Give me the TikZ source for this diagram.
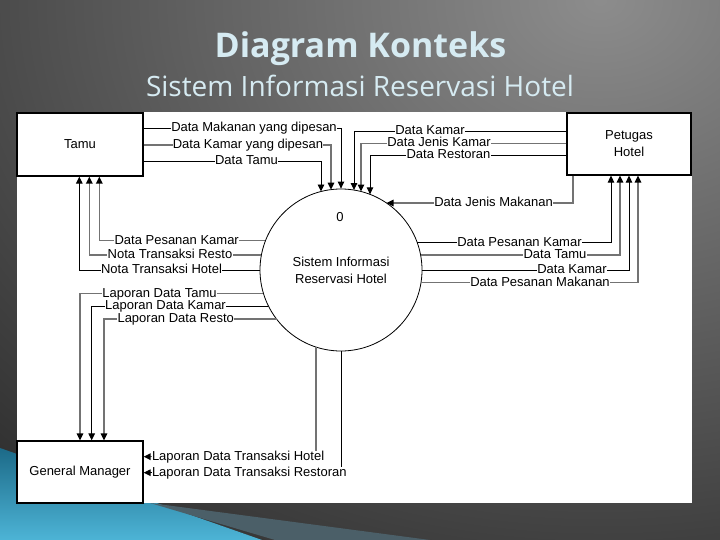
\documentclass[tikz,border=0pt]{standalone}
\usepackage{fontspec}
\setmainfont{Liberation Sans}
\newfontfamily\ttlfont{Open Sans}
\usetikzlibrary{arrows.meta,calc}
\definecolor{ttlcol}{HTML}{D6EBF2}
\definecolor{tealD}{HTML}{1C6A88}
\definecolor{tealL}{HTML}{4DB4D6}
\definecolor{wedgecol}{HTML}{4B5F68}
\begin{document}
\begin{tikzpicture}[x=1pt,y=-1pt,
  lbl/.style={fill=white,inner sep=0.3pt,text height=9pt,text depth=2pt,font=\fontsize{13}{15}\selectfont},
  ent/.style={draw=black,line width=1.2pt,fill=white,minimum width=126pt,minimum height=63pt,inner sep=0pt,align=center,font=\fontsize{13}{17}\selectfont},
  ln/.style={draw=black,line width=0.9pt},
  lg/.style={draw=black!55,line width=1.5pt},
  arr/.style={-{Triangle[length=7pt,width=6.5pt,color=black]}},
  ttlA/.style={font=\ttlfont\bfseries\fontsize{34}{40}\selectfont,anchor=base},
  ttlB/.style={font=\ttlfont\fontsize{28}{34}\selectfont,anchor=base}]
\useasboundingbox (0,0) rectangle (720,540);
% background
\begin{scope}
\clip (0,0) rectangle (720,540);
\fill[black] (0,0) rectangle (720,540);
\shade[inner color=black!45, outer color=black] (600,0) ellipse [x radius=1300, y radius=1000];
\shade[top color=tealD, bottom color=tealL] (0,448) -- (262,540) -- (0,540) -- cycle;
\fill[wedgecol] (150,503) -- (430,540) -- (275,540) -- cycle;
\end{scope}
\fill[white] (17,112) rectangle (692,503);
% titles
\node[ttlA,text=ttlcol] (t1) at (360.5,58) {Diagram Konteks};
\node[ttlB,text=ttlcol] (t2) at (360,97) {Sistem Informasi Reservasi Hotel};
% entities
\node[ent] (tamu) at (80,144.5) {Tamu};
\node[ent,minimum width=124pt,minimum height=62pt] (pet) at (629,144) {Petugas\\Hotel};
\node[ent,minimum height=62pt] (gm) at (80,472) {General Manager};
\node[circle,draw,line width=0.8pt,minimum size=162pt,inner sep=0pt,align=center,
      font=\fontsize{13}{17}\selectfont] (c) at (341,270) {Sistem Informasi\\Reservasi Hotel};
\node[font=\fontsize{13}{15}\selectfont] (c0) at (340,217) {0};
% points on the circle
\path (c.center) ++(-20,{-sqrt(6561-400)}) coordinate (cT3)
      (c.center) ++(-10,{-sqrt(6561-100)}) coordinate (cT2)
      (c.center) ++(13,{-sqrt(6561-169)}) coordinate (cP1)
      (c.center) ++(20,{-sqrt(6561-400)}) coordinate (cP2)
      (c.center) ++(29,{-sqrt(6561-841)}) coordinate (cP3)
      (c.center) ++({sqrt(6561-4489)},-67) coordinate (cJM)
      (c.center) ++({sqrt(6561-745.29)},-27.3) coordinate (cR1)
      (c.center) ++({sqrt(6561-225)},-15) coordinate (cR2)
      (c.center) ++({sqrt(6561-161.29)},12.7) coordinate (cR4)
      (c.center) ++({-sqrt(6561-858.49)},-29.3) coordinate (cL1)
      (c.center) ++({-sqrt(6561-225)},-15) coordinate (cL2)
      (c.center) ++({-sqrt(6561-552.25)},23.5) coordinate (cL4)
      (c.center) ++({-sqrt(6561-1296)},36) coordinate (cL5)
      (c.center) ++({-sqrt(6561-2401)},49) coordinate (cL6)
      (c.center) ++(-25,{sqrt(6561-625)}) coordinate (cB1);
% Tamu -> system
\draw[ln,arr] (tamu.east |- 0,128) -| (c.north);
\draw[lg,arr] (tamu.east |- 0,145) -| (cT2);
\draw[ln,arr] (tamu.east |- 0,161) -| (cT3);
% Petugas -> system
\draw[ln,arr] (pet.west |- 0,131.5) -| (cP1);
\draw[lg,arr] (pet.west |- 0,143.5) -| (cP2);
\draw[ln,arr] (pet.west |- 0,155.5) -| (cP3);
\draw[lg,arr] (pet.south -| 573,0) |- (cJM);
% system -> Petugas
\draw[ln,arr] (cR1) -| (pet.south -| 611,0);
\draw[lg,arr] (cR2) -| (pet.south -| 620,0);
\draw[ln,arr] (c.east) -| (pet.south -| 629,0);
\draw[lg,arr] (cR4) -| (pet.south -| 638,0);
% system -> Tamu
\draw[lg,arr] (cL1) -| (tamu.south -| 99.3,0);
\draw[lg,arr] (cL2) -| (tamu.south -| 89.3,0);
\draw[ln,arr] (c.west) -| (tamu.south -| 79.3,0);
% system -> GM
\draw[lg,arr] (cL4) -| (gm.north -| 80,0);
\draw[ln,arr] (cL5) -| (gm.north -| 91.7,0);
\draw[lg,arr] (cL6) -| (gm.north -| 104,0);
\draw[lg,arr] (cB1) |- (gm.east |- 0,456.7);
\draw[ln,arr] (c.south) |- (gm.east |- 0,472.7);
% labels
\node[lbl] (a1) at (254,128) {Data Makanan yang dipesan};
\node[lbl] (a2) at (248,145) {Data Kamar yang dipesan};
\node[lbl] (a3) at (246.5,161) {Data Tamu};
\node[lbl] (b1) at (430,131.5) {Data Kamar};
\node[lbl] (b2) at (439,143.5) {Data Jenis Kamar};
\node[lbl] (b3) at (448.5,155.5) {Data Restoran};
\node[lbl] (b4) at (493.5,203) {Data Jenis Makanan};
\node[lbl] (r1) at (519.5,242.7) {Data Pesanan Kamar};
\node[lbl] (r2) at (555,255) {Data Tamu};
\node[lbl] (r3) at (572,270) {Data Kamar};
\node[lbl] (r4) at (540,282.7) {Data Pesanan Makanan};
\node[lbl] (l1) at (176.7,240.7) {Data Pesanan Kamar};
\node[lbl] (l2) at (170,255) {Nota Transaksi Resto};
\node[lbl] (l3) at (161.5,270) {Nota Transaksi Hotel};
\node[lbl] (g1) at (159.5,293.5) {Laporan Data Tamu};
\node[lbl] (g2) at (165.5,306) {Laporan Data Kamar};
\node[lbl] (g3) at (175.7,319) {Laporan Data Resto};
\node[lbl,anchor=west] (h1) at (151.5,456.7) {Laporan Data Transaksi Hotel};
\node[lbl,anchor=west] (h2) at (151.5,472.7) {Laporan Data Transaksi Restoran};
\end{tikzpicture}
\end{document}
